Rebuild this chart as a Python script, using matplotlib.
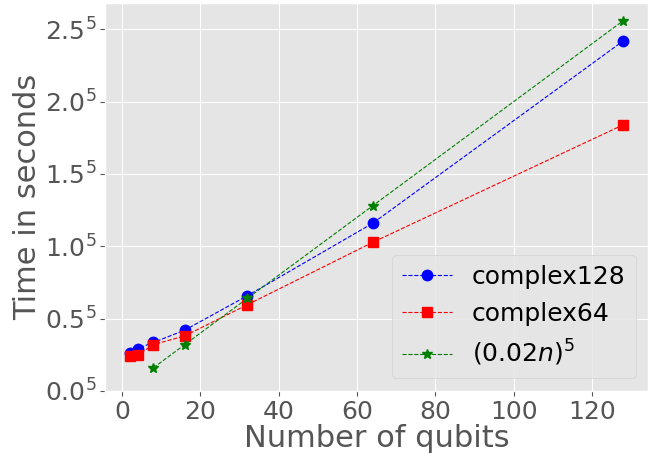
import matplotlib
matplotlib.use('Agg')
import matplotlib.pyplot as plt
from matplotlib.ticker import FuncFormatter

plt.style.use('ggplot')

# fifth root of runtime (seconds) vs number of qubits
n_c128 = [2, 4, 8, 16, 32, 64, 128]
t_c128 = [0.26, 0.293, 0.335, 0.42, 0.658, 1.159, 2.42]

n_c64 = [2, 4, 8, 16, 32, 64, 128]
t_c64 = [0.242, 0.249, 0.32, 0.38, 0.596, 1.027, 1.84]

n_ref = [8, 16, 32, 64, 128]
t_ref = [0.16, 0.32, 0.64, 1.28, 2.56]

fig = plt.figure(figsize=(6.62, 4.54), dpi=100)
ax = fig.add_axes([0.159, 0.139, 0.820, 0.854])

ax.plot(n_c128, t_c128, 'b--', marker='o', markersize=7.5, linewidth=0.8, label='complex128')
ax.plot(n_c64, t_c64, 'r--', marker='s', markersize=7.5, linewidth=0.8, label='complex64')
ax.plot(n_ref, t_ref, 'g--', marker='*', markersize=7.5, linewidth=0.8, label=r'$(0.02n)^5$')

ax.set_ylim(bottom=0)
ax.set_xticks([0, 20, 40, 60, 80, 100, 120])
ax.set_yticks([0.0, 0.5, 1.0, 1.5, 2.0, 2.5])
ax.yaxis.set_major_formatter(FuncFormatter(lambda v, pos: r'$%.1f^5$' % v))
ax.tick_params(labelsize=18, pad=3)

ax.set_xlabel('Number of qubits', fontsize=22, labelpad=0)
ax.set_ylabel('Time in seconds', fontsize=22, labelpad=2)
ax.legend(loc='lower right', fontsize=18)

fig.savefig('out.png', dpi=100)
